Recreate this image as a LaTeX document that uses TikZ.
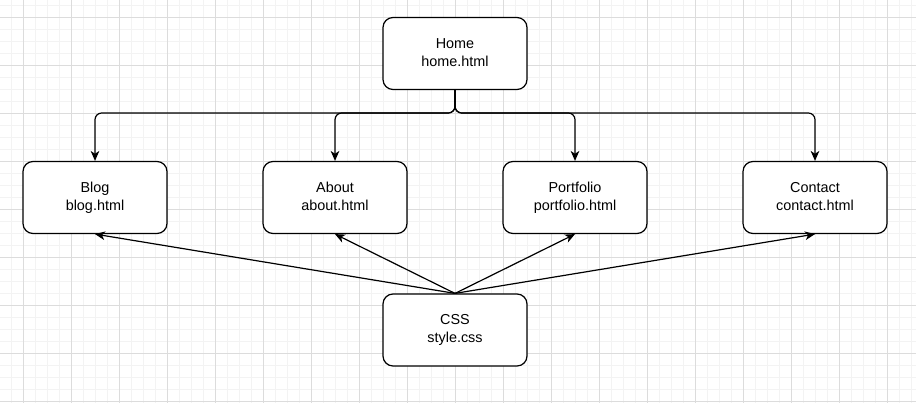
\documentclass[tikz,border=0pt]{standalone}
\usepackage{fontspec}
\setmainfont{Liberation Sans}
\usepackage{tikz}
\usetikzlibrary{positioning,arrows.meta}

\definecolor{gridminor}{HTML}{F3F3F3}
\definecolor{gridmajor}{HTML}{DCDCDC}
\newcommand{\pgstrut}{\rule[-1.2pt]{0pt}{9pt}}
\newcommand{\pg}[2]{#1\pgstrut\\#2\pgstrut}

\begin{document}
\begin{tikzpicture}[x=0.75pt, y=-0.75pt, node distance=180pt, on grid,
    page/.style={draw, line width=0.9pt, rounded corners=7.5pt, fill=white,
        minimum width=108pt, minimum height=54pt, align=center,
        font=\fontsize{10.8}{13.4}\selectfont},
    link/.style={line width=0.9pt, -{Stealth[length=7.5pt, width=6.5pt, inset=2.2pt]}}]

    \useasboundingbox (0,0) rectangle (916,403);
    \foreach \gx in {11.3,23.3,...,916} \draw[gridminor, line width=0.6pt] (\gx,0) -- (\gx,403);
    \foreach \gy in {5.3,17.3,...,403} \draw[gridminor, line width=0.6pt] (0,\gy) -- (916,\gy);
    \foreach \gx in {23.3,71.3,...,916} \draw[gridmajor, line width=0.6pt] (\gx,0) -- (\gx,403);
    \foreach \gy in {17.3,65.3,...,403} \draw[gridmajor, line width=0.6pt] (0,\gy) -- (916,\gy);

    \node[page] (home) at (455,53.5) {\pg{Home}{home.html}};
    \node[page] (about) at (335,197.5) {\pg{About}{about.html}};
    \node[page] (blog) [left=of about] {\pg{Blog}{blog.html}};
    \node[page] (portfolio) [right=of about] {\pg{Portfolio}{portfolio.html}};
    \node[page] (contact) [right=of portfolio] {\pg{Contact}{contact.html}};
    \node[page] (css) at (455,330) {\pg{CSS}{style.css}};

    \coordinate (bus) at (455,113);

    \foreach \child in {blog,about,portfolio,contact}
        \draw[link, rounded corners=5pt] (home.south) -- (bus) -| (\child.north);

    \foreach \child in {blog,about,portfolio,contact}
        \draw[link] (css.north) -- (\child.south);

\end{tikzpicture}
\end{document}
